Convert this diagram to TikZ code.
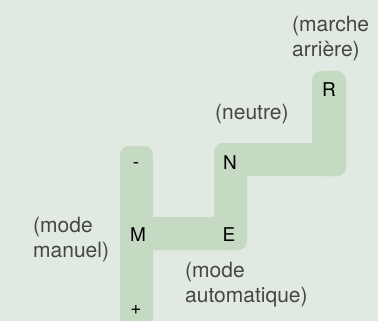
\documentclass[tikz,border=0pt]{standalone}
\usepackage{fontspec}
\setmainfont{TeX Gyre Heros}
\definecolor{bggreen}{RGB}{225,234,226}
\definecolor{trackgreen}{RGB}{197,217,195}
\definecolor{notegray}{RGB}{70,70,70}
\begin{document}
\begin{tikzpicture}[x=1pt, y=-1pt,
	gear/.style={font=\fontsize{19}{22}\selectfont, text=black, inner sep=0pt, anchor=base},
	note/.style={font=\fontsize{21}{25}\selectfont, text=notegray, inner sep=0pt, anchor=base west, align=left}]
		\useasboundingbox (0,0) rectangle (378,321);
		\fill[bggreen] (0,0) rectangle (378,321);
		\clip (0,0) rectangle (378,321);
		
		\begin{scope}[fill=trackgreen, rounded corners=9pt]
		\fill (120,146) rectangle (153,340);
		\fill (120,217) rectangle (247,250);
		\fill (214,143) rectangle (247,250);
		\fill (214,143) rectangle (346,176);
		\fill (312,71) rectangle (346,176);
		\end{scope}
		
		\node[gear] (R) at (329,97) {R};
		\node[gear] (N) at (230,169) {N};
		\node[gear] (E) at (229,241.5) {E};
		\node[gear] (M) at (138,241.5) {M};
		\node[gear] (moins) at (136,168) {-};
		\node[gear] (plus) at (136,314) {+};
		
		\node[note] (marche) at (292,56.5) {(marche\\arrière)};
		\node[note] (neutre) at (215,120) {(neutre)};
		\node[note] (manuel) at (33,257.5) {(mode\\manuel)};
		\node[note] (auto) at (185,302) {(mode\\automatique)};
		\end{tikzpicture}
\end{document}
